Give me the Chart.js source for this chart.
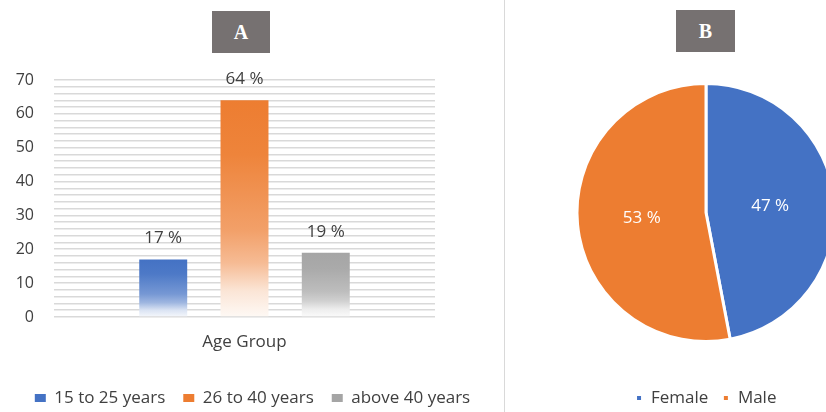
<!DOCTYPE html>
<html>
<head>
<meta charset="utf-8">
<script src="https://cdn.jsdelivr.net/npm/chart.js@4.4.1/dist/chart.umd.min.js"></script>
<style>
  html, body { margin: 0; padding: 0; background: #fff; overflow: hidden; }
  body { width: 826px; height: 412px; position: relative; }
  .tag { position: absolute; background: #767171; color: #fff; font: bold 20px "Liberation Serif", serif;
         display: flex; align-items: center; justify-content: center; }
  #divider { position: absolute; left: 504px; top: 0; width: 1px; height: 412px; background: #d9d9d9; }
  #barWrap { position: absolute; left: 0; top: 0; width: 505px; height: 412px; }
  #pieWrap { position: absolute; left: 510px; top: 0; width: 392px; height: 412px; }
</style>
</head>
<body>
<div class="tag" style="left:212px;top:11px;width:58px;height:42px;">A</div>
<div class="tag" style="left:676px;top:10px;width:59px;height:42px;">B</div>
<div id="divider"></div>
<div id="barWrap"><canvas id="ageChart"></canvas></div>
<div id="pieWrap"><canvas id="genderChart"></canvas></div>
<script>
  // chart values
  var axisLabel = ["Age Group"];
  var ageGroups = ["15 to 25 years", "26 to 40 years", "above 40 years"];
  var agePercents = [17, 64, 19];
  var genders = ["Female", "Male"];
  var genderPercents = [47, 53];

  var barColors = ["#4472c4", "#ed7d31", "#a5a5a5"];
  var pieColors = ["#4472c4", "#ed7d31"];
  var textColor = "#404040";

  var tint = function(hex, t) {
    var r = parseInt(hex.slice(1, 3), 16);
    var g = parseInt(hex.slice(3, 5), 16);
    var b = parseInt(hex.slice(5, 7), 16);
    return "rgb(" + Math.round(r + (255 - r) * t) + "," + Math.round(g + (255 - g) * t) + "," + Math.round(b + (255 - b) * t) + ")";
  };

  // bars fade to white towards the base
  var fadeFill = function(base) {
    return function(context) {
      var chart = context.chart;
      if (!chart.chartArea || context.type !== "data") return base;
      var y = chart.scales.y;
      var top = y.getPixelForValue(context.parsed.y);
      var bottom = y.getPixelForValue(0);
      var grad = chart.ctx.createLinearGradient(0, top, 0, bottom);
      grad.addColorStop(0, tint(base, 0));
      grad.addColorStop(0.25, tint(base, 0.05));
      grad.addColorStop(0.6, tint(base, 0.27));
      grad.addColorStop(0.75, tint(base, 0.48));
      grad.addColorStop(0.88, tint(base, 0.8));
      grad.addColorStop(1, tint(base, 0.95));
      return grad;
    };
  };

  var barLabels = {
    id: "barLabels",
    afterDatasetsDraw: function(chart) {
      var ctx = chart.ctx;
      ctx.save();
      ctx.font = "17px 'Open Sans'";
      ctx.fillStyle = textColor;
      ctx.textAlign = "center";
      ctx.textBaseline = "middle";
      chart.data.datasets.forEach(function(ds, i) {
        chart.getDatasetMeta(i).data.forEach(function(bar, j) {
          ctx.fillText(ds.data[j] + " %", bar.x, bar.y - 21);
        });
      });
      ctx.restore();
    }
  };

  var pieLabels = {
    id: "pieLabels",
    afterDatasetsDraw: function(chart) {
      var ctx = chart.ctx;
      var ds = chart.data.datasets[0];
      ctx.save();
      ctx.font = "17px 'Open Sans'";
      ctx.fillStyle = "#ffffff";
      ctx.textAlign = "center";
      ctx.textBaseline = "middle";
      chart.getDatasetMeta(0).data.forEach(function(arc, j) {
        var p = arc.tooltipPosition();
        ctx.fillText(ds.data[j] + " %", p.x, p.y);
      });
      ctx.restore();
    }
  };

  var ageChart = new Chart(document.getElementById("ageChart"), {
    type: "bar",
    data: {
      labels: axisLabel,
      datasets: ageGroups.map(function(name, i) {
        return {
          label: name,
          data: [agePercents[i]],
          backgroundColor: fadeFill(barColors[i]),
          borderWidth: 0,
          categoryPercentage: 0.64,
          barPercentage: 0.59
        };
      })
    },
    options: {
      responsive: true,
      maintainAspectRatio: false,
      animation: false,
      layout: { padding: { top: 80, right: 0, left: 0, bottom: -4.5 } },
      scales: {
        x: {
          grid: { display: false, drawTicks: false },
          border: { display: false },
          ticks: { color: textColor, font: { family: "'Open Sans'", size: 17 }, padding: 15 },
          afterFit: function(scale) { scale.height = 54.5; }
        },
        y: {
          min: 0,
          max: 70,
          grid: { color: "#d9d9d9", lineWidth: 1.6, drawTicks: false },
          border: { display: false },
          ticks: {
            stepSize: 2,
            autoSkip: false,
            padding: 20,
            color: textColor,
            font: { family: "'Open Sans'", size: 16 },
            callback: function(v) { return v % 10 === 0 ? v : ""; }
          },
          afterFit: function(scale) { scale.width = 54; }
        },
        // empty right-hand gutter so the legend can span the full panel
        gutter: {
          type: "linear",
          position: "right",
          grid: { display: false, drawTicks: false },
          border: { display: false },
          ticks: { display: false },
          afterFit: function(scale) { scale.width = 70; }
        }
      },
      plugins: {
        legend: {
          position: "bottom",
          labels: {
            boxWidth: 11,
            boxHeight: 8,
            padding: 18,
            color: textColor,
            font: { family: "'Open Sans'", size: 17 },
            generateLabels: function(chart) {
              return chart.data.datasets.map(function(ds, i) {
                return { text: ds.label, fillStyle: barColors[i], strokeStyle: barColors[i], lineWidth: 0, datasetIndex: i, fontColor: textColor };
              });
            }
          }
        },
        tooltip: { enabled: false }
      }
    },
    plugins: [barLabels]
  });

  var genderChart = new Chart(document.getElementById("genderChart"), {
    type: "pie",
    data: {
      labels: genders,
      datasets: [
        {
          data: genderPercents,
          backgroundColor: pieColors,
          borderColor: "#ffffff",
          borderWidth: 3,
          radius: 129
        }
      ]
    },
    options: {
      responsive: true,
      maintainAspectRatio: false,
      animation: false,
      layout: { padding: { top: 49.5, bottom: -4.5 } },
      plugins: {
        legend: {
          position: "bottom",
          labels: {
            boxWidth: 7,
            boxHeight: 7,
            padding: 14,
            color: textColor,
            font: { family: "'Open Sans'", size: 17 }
          }
        },
        tooltip: { enabled: false }
      }
    },
    plugins: [pieLabels]
  });
</script>
</body>
</html>
